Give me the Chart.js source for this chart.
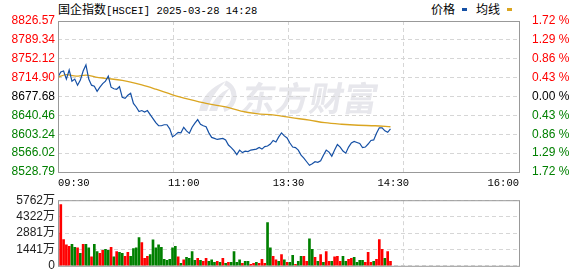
<!DOCTYPE html>
<html>
<head>
<meta charset="utf-8">
<script src="https://cdn.jsdelivr.net/npm/chart.js@4.4.1/dist/chart.umd.min.js"></script>
<style>
body { margin: 0; background: #fff; width: 578px; height: 276px; overflow: hidden; position: relative; }
#price { position: absolute; left: 0; top: 0; }
#vol { position: absolute; left: 0; top: 190px; }
.title { position: absolute; left: 58px; top: 1px; font-size: 12px; line-height: 15px; color: #000; white-space: nowrap; font-family: 'Noto Sans CJK SC', sans-serif; }
.mono { font-family: 'Liberation Mono', monospace; font-size: 10.5px; }
.legend { position: absolute; top: 1px; left: 431px; font-size: 12px; line-height: 15px; white-space: nowrap; font-family: 'Noto Sans CJK SC', sans-serif; }
.key { display: inline-block; width: 5px; height: 3px; vertical-align: 3px; margin: 0 9px 0 7px; }
</style>
</head>
<body>
<div class="title">国企指数<span class="mono">[HSCEI] 2025-03-28 14:28</span></div>
<div class="legend">价格<span class="key" style="background:#1550a5"></span>均线<span class="key" style="background:#daa520"></span></div>
<canvas id="price" width="578" height="190"></canvas>
<canvas id="vol" width="578" height="86"></canvas>
<script>
// 昨收 and axis ticks
const prevClose = 8677.68;
const priceTicks = [8528.79, 8566.02, 8603.24, 8640.46, 8677.68, 8714.90, 8752.12, 8789.34, 8826.57];
const volTicks = [0, 1440.5, 2881, 4321.5, 5762];
const gridMinutes = [0, 82.5, 165, 247.5, 330];
const timeLabelMinutes = [0, 90, 165, 240, 330];
const timeLabels = ['09:30', '11:00', '13:30', '14:30', '16:00'];

// one value every 2 minutes from 09:30 (lunch break removed)
const stepMinutes = 2;
const price = [
    8716, 8726, 8728, 8712, 8730, 8708, 8712, 8700, 8710, 8728,
    8740, 8712, 8700, 8698, 8688, 8696, 8703, 8708, 8718, 8696,
    8693, 8692, 8697, 8676, 8674, 8680, 8684, 8664, 8657, 8648,
    8650, 8647, 8650, 8642, 8634, 8626, 8620, 8620, 8622, 8622,
    8614, 8598, 8602, 8607, 8606, 8617, 8610, 8605, 8617, 8625,
    8632, 8623, 8620, 8618, 8606, 8597, 8595, 8593, 8594, 8595,
    8592, 8582, 8577, 8571, 8563, 8572, 8567, 8570, 8569, 8572,
    8573, 8574, 8577, 8574, 8579, 8580, 8584, 8591, 8588, 8598,
    8606, 8600, 8596, 8586, 8578, 8577, 8572, 8562, 8556, 8549,
    8542, 8545, 8549, 8548, 8551, 8562, 8572, 8568, 8560, 8572,
    8583, 8578, 8570, 8566, 8578, 8586, 8589, 8587, 8585, 8577,
    8578, 8584, 8591, 8592, 8605, 8616, 8616, 8610, 8607, 8614
];

const avgMinutes = [0, 6, 13, 20, 27, 34, 46, 60, 70, 82, 94, 106, 120, 131, 142, 155, 167, 180, 191, 203, 215, 227, 238];
const avgPrice = [8716, 8721, 8718, 8720, 8716, 8713.5, 8709.6, 8700.4, 8692, 8681, 8672, 8664, 8657, 8649, 8644, 8641, 8636, 8631, 8626, 8623, 8621, 8620, 8618];

// 成交量 (万)
const volume = [
    2883, 5370, 2300, 1850, 1703, 1886, 1624, 1572, 1101, 1887,
    1887, 1572, 786, 1887, 1258, 1101, 1362, 1441, 1362, 1624,
    786, 1258, 1179, 1101, 838, 1179, 838, 1520, 1572, 2489,
    2044, 655, 838, 996, 2280, 1572, 1834, 1624, 576, 472,
    576, 1572, 1703, 786, 210, 524, 734, 655, 1258, 472,
    655, 472, 393, 655, 393, 524, 314, 393, 314, 655,
    210, 314, 314, 1258, 314, 524, 210, 393, 393, 131,
    210, 314, 210, 576, 210, 3798, 1572, 838, 524, 393,
    996, 524, 314, 314, 917, 131, 393, 838, 838, 393,
    2358, 1441, 734, 393, 996, 314, 1258, 393, 393, 786,
    838, 393, 838, 393, 576, 655, 734, 314, 472, 472,
    314, 1179, 314, 393, 576, 2305, 1441, 655, 1258, 393
];
const volDir = 'rrrrrggrgr ggrggrrggr grggrrgggg rrrggggggg gggrgrgggg rgrrgggrgr grggggrggr rgrrrggrrg rgrggrggrr ggrgrgrrgr rrggrrgggg rrrgrrrgrr'.replace(/ /g, '').split('');

const RED = '#ff0000';
const GREEN = '#008000';
const GRID = '#d6d6d6';

function fixedTicks(vals) {
    return scale => { scale.ticks = vals.map(v => ({ value: v })); };
}
function levelColor(v) {
    if (Math.abs(v - prevClose) < 0.005) return '#000';
    return v > prevClose ? RED : GREEN;
}

const framePlugin = {
    id: 'frame',
    afterDraw(chart) {
        const a = chart.chartArea;
        const ctx = chart.ctx;
        ctx.save();
        ctx.strokeStyle = '#999';
        ctx.lineWidth = 1;
        ctx.strokeRect(a.left + 0.5, a.top + 0.5, a.right - a.left, a.bottom - a.top);
        ctx.restore();
    }
};

const watermark = {
    id: 'watermark',
    beforeDraw(chart) {
        const ctx = chart.ctx;
        ctx.save();
        ctx.fillStyle = '#e7e7ec';
        ctx.strokeStyle = '#e7e7ec';
        // wings of the logo
        ctx.beginPath();
        ctx.moveTo(199, 111); ctx.quadraticCurveTo(203, 90, 226, 81); ctx.quadraticCurveTo(211, 95, 207, 111);
        ctx.closePath(); ctx.fill();
        ctx.beginPath();
        ctx.moveTo(209, 111); ctx.quadraticCurveTo(214, 95, 230, 88); ctx.quadraticCurveTo(220, 100, 217, 111);
        ctx.closePath(); ctx.fill();
        ctx.lineWidth = 5;
        ctx.beginPath();
        ctx.arc(220, 96, 14, -1.2, 1.3);
        ctx.stroke();
        ctx.font = "bold 34px 'Noto Sans CJK SC'";
        ctx.textBaseline = 'middle';
        ctx.translate(242, 98);
        ctx.transform(1, 0, -0.18, 1, 0, 0);
        ctx.fillText('东方财富', 0, 0);
        ctx.restore();
    }
};

const axisFont = { family: "'Liberation Sans', 'Noto Sans CJK SC'", size: 12 };

const priceChart = new Chart(document.getElementById('price').getContext('2d'), {
    type: 'line',
    data: {
        datasets: [
            {
                label: '价格',
                data: price.map((p, i) => ({ x: i * stepMinutes, y: p })),
                borderColor: '#1550a5',
                borderWidth: 1.2,
                pointRadius: 0,
                tension: 0
            },
            {
                label: '均线',
                data: avgPrice.map((p, i) => ({ x: avgMinutes[i], y: p })),
                borderColor: '#daa520',
                borderWidth: 1.3,
                pointRadius: 0,
                cubicInterpolationMode: 'monotone'
            }
        ]
    },
    options: {
        responsive: false,
        animation: false,
        events: [],
        layout: { padding: { top: 21, left: 0, right: 0, bottom: 0 } },
        plugins: { legend: { display: false }, tooltip: { enabled: false } },
        scales: {
            x: {
                type: 'linear', min: 0, max: 330, position: 'bottom', weight: 0,
                afterBuildTicks: fixedTicks(gridMinutes),
                afterFit: s => { s.height = 0; },
                ticks: { display: false },
                grid: { color: GRID, drawTicks: false },
                border: { display: false, dash: [4, 3] }
            },
            xl: {
                type: 'linear', min: 0, max: 330, position: 'bottom', weight: 1,
                afterBuildTicks: fixedTicks(timeLabelMinutes),
                afterFit: s => { s.height = 18; },
                grid: { display: false, drawTicks: false },
                border: { display: false },
                ticks: {
                    align: 'inner', autoSkip: false, maxRotation: 0, padding: 5,
                    color: '#000',
                    font: { family: "'Liberation Mono', monospace", size: 10.5 },
                    callback: (v, i) => timeLabels[i]
                }
            },
            y: {
                position: 'left', min: priceTicks[0], max: priceTicks[priceTicks.length - 1],
                afterBuildTicks: fixedTicks(priceTicks),
                afterFit: s => { s.width = 58; },
                grid: { color: GRID, drawTicks: false },
                border: { display: false, dash: [4, 3] },
                ticks: {
                    padding: 3, font: axisFont, autoSkip: false,
                    color: c => levelColor(c.tick.value),
                    callback: v => v.toFixed(2)
                }
            },
            y2: {
                position: 'right', min: priceTicks[0], max: priceTicks[priceTicks.length - 1],
                afterBuildTicks: fixedTicks(priceTicks),
                afterFit: s => { s.width = 59; },
                grid: { display: false },
                border: { display: false },
                ticks: {
                    padding: 5, font: axisFont, autoSkip: false,
                    color: c => levelColor(c.tick.value),
                    callback: v => Math.abs((v - prevClose) / prevClose * 100).toFixed(2) + ' %'
                }
            }
        }
    },
    plugins: [watermark, framePlugin]
});

const volChart = new Chart(document.getElementById('vol').getContext('2d'), {
    type: 'bar',
    data: {
        datasets: [{
            label: '成交量',
            data: volume.map((v, i) => ({ x: i * stepMinutes, y: v })),
            backgroundColor: volDir.map(d => d === 'r' ? RED : GREEN),
            barThickness: 2,
            grouped: false
        }]
    },
    options: {
        responsive: false,
        animation: false,
        events: [],
        layout: { padding: { top: 6, left: 0, right: 59, bottom: 0 } },
        plugins: { legend: { display: false }, tooltip: { enabled: false } },
        scales: {
            x: {
                type: 'linear', min: 0, max: 330, offset: false,
                afterBuildTicks: fixedTicks(gridMinutes),
                afterFit: s => { s.height = 6; },
                ticks: { display: false },
                grid: { color: GRID, drawTicks: false, offset: false },
                border: { display: false, dash: [4, 3] }
            },
            y: {
                position: 'left', min: 0, max: volTicks[volTicks.length - 1],
                afterBuildTicks: fixedTicks(volTicks),
                afterFit: s => { s.width = 58; },
                grid: { color: GRID, drawTicks: false },
                border: { display: false, dash: [4, 3] },
                ticks: {
                    padding: 3, font: axisFont, color: '#222', autoSkip: false,
                    callback: v => v === 0 ? '0' : Math.round(v) + '万'
                }
            }
        }
    },
    plugins: [framePlugin]
});
</script>
</body>
</html>
